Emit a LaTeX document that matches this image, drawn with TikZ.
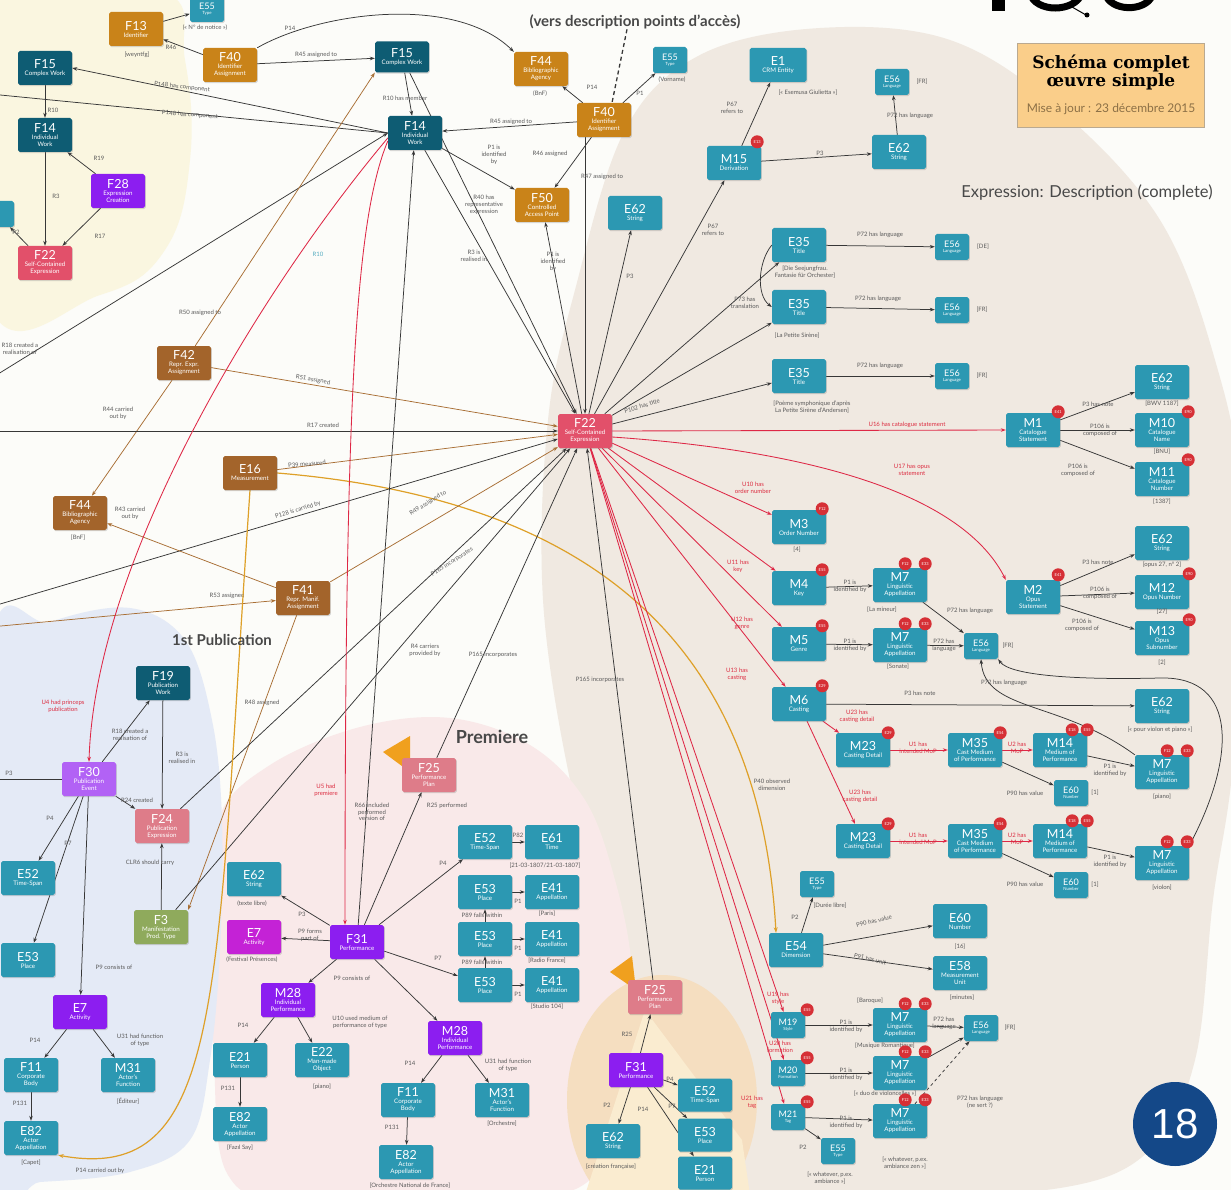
\documentclass[tikz,border=0pt]{standalone}
\usepackage{fontspec}
\setmainfont{Lato}
\setsansfont{Lato}
\newfontfamily\titlefont{DejaVu Serif}
\newfontfamily\numfont{Liberation Sans}
\usetikzlibrary{arrows.meta,shadows}
\pgfdeclarelayer{regions}
\pgfdeclarelayer{edges}
\pgfsetlayers{regions,edges,main}
\definecolor{colE}{RGB}{44,152,178}
\definecolor{colF}{RGB}{14,92,115}
\definecolor{colR}{RGB}{226,80,106}
\definecolor{colP}{RGB}{222,124,137}
\definecolor{colV}{RGB}{140,30,240}
\definecolor{colVl}{RGB}{178,98,245}
\definecolor{colMg}{RGB}{196,34,214}
\definecolor{colO}{RGB}{201,131,25}
\definecolor{colB}{RGB}{163,100,43}
\definecolor{colG}{RGB}{143,170,92}
\definecolor{colBadge}{RGB}{214,48,54}
\definecolor{bgwhite}{RGB}{252,252,249}
\definecolor{colCream}{RGB}{250,246,224}
\definecolor{colBeige}{RGB}{240,233,225}
\definecolor{colBlue}{RGB}{228,234,246}
\definecolor{colPink}{RGB}{249,233,233}
\definecolor{colPeach}{RGB}{245,222,192}
\definecolor{colPeachL}{RGB}{250,236,208}
\definecolor{edgecol}{RGB}{55,55,55}
\definecolor{redcol}{RGB}{222,40,70}
\definecolor{browncol}{RGB}{168,110,52}
\definecolor{orcol}{RGB}{222,160,40}
\definecolor{labcol}{RGB}{90,90,90}
\definecolor{redlabcol}{RGB}{220,45,65}
\definecolor{hdrcol}{RGB}{72,72,72}
\definecolor{titlefill}{RGB}{250,206,138}
\definecolor{datecol}{RGB}{140,112,70}
\definecolor{navy}{RGB}{20,72,136}
\definecolor{flagcol}{RGB}{240,160,30}
\newcommand\cc[1]{{\fontsize{12.5}{13}\selectfont #1}}
\newcommand\cs[1]{{\fontsize{9}{9.5}\selectfont #1}}
\begin{document}
\begin{tikzpicture}[x=1pt,y=-1pt,
  bx/.style={rectangle, rounded corners=1.8pt, minimum width=54pt, minimum height=34pt, inner sep=0.4pt, align=center, text=white, font=\fontsize{6.2}{7}\selectfont, drop shadow={shadow xshift=0.8pt, shadow yshift=-1.2pt, opacity=0.3}},
  sm/.style={minimum width=34pt, minimum height=26pt, font=\fontsize{4.3}{4.9}\selectfont},
  cE/.style={bx, fill=colE}, cF/.style={bx, fill=colF}, cR/.style={bx, fill=colR},
  cP/.style={bx, fill=colP}, cV/.style={bx, fill=colV}, cVl/.style={bx, fill=colVl},
  cMg/.style={bx, fill=colMg}, cO/.style={bx, fill=colO}, cB/.style={bx, fill=colB},
  cG/.style={bx, fill=colG},
  badge/.style={circle, fill=colBadge, text=white, font=\fontsize{4}{4}\selectfont, inner sep=0pt, minimum size=13pt},
  lab/.style={font=\fontsize{6}{6.7}\selectfont, text=labcol, align=center, inner sep=0.3pt},
  redlab/.style={lab, text=redlabcol},
  ann/.style={lab},
  ar/.style={draw=edgecol, line width=0.75pt, -{Stealth[length=5pt,width=3.6pt]}},
  redar/.style={draw=redcol, line width=0.85pt, -{Stealth[length=5pt,width=3.6pt]}},
  brar/.style={draw=browncol, line width=0.75pt, -{Stealth[length=5pt,width=3.6pt]}},
  orar/.style={draw=orcol, line width=1.2pt, -{Stealth[length=5.5pt,width=4pt]}},
  hdr/.style={text=hdrcol, inner sep=0pt}
]
\useasboundingbox (0,0) rectangle (1231,1190);

% ---------------- regions
\begin{pgfonlayer}{regions}
\fill[bgwhite] (0,0) rectangle (1231,1190);
\fill[colCream] plot[smooth cycle, tension=0.7] coordinates {(-10,-10) (160,-10) (185,60) (190,160) (165,250) (100,295) (-10,305)};
\fill[colBeige] plot[smooth cycle, tension=0.6] coordinates {(575,290) (548,420) (543,600) (570,780) (605,900) (650,1020) (720,1180) (880,1194) (1060,1188) (1150,1150) (1195,1060) (1213,900) (1234,750) (1240,500) (1215,360) (1160,220) (1060,110) (950,40) (820,28) (700,55) (625,130)};
\fill[colPink] plot[smooth cycle, tension=0.6] coordinates {(218,820) (270,765) (360,727) (450,718) (530,745) (585,800) (615,880) (632,970) (630,1080) (600,1170) (520,1200) (300,1200) (228,1175) (214,1060) (214,930)};
\fill[colBlue] plot[smooth cycle, tension=0.6] coordinates {(-10,655) (50,622) (130,608) (185,640) (212,720) (222,820) (220,950) (210,1060) (190,1140) (130,1172) (40,1182) (-10,1182)};
\fill[colPeach] (662,1100) ellipse [x radius=95, y radius=125];
\fill[colPeachL] (645,1010) -- (585,1195) -- (750,1195) -- (742,1140) -- cycle;
\end{pgfonlayer}

% ---------------- logo fragment (top right)
\fill[black] (992,-2) rectangle (1005,11);
\draw[line width=7pt] (1030,-7) .. controls (1035,13) and (1075,13) .. (1082,-7);
\draw[line width=1pt] (1072,7) -- (1086,15);
\fill[black] (1087,15) circle (2.5pt);
\draw[line width=7pt] (1105,-7) .. controls (1110,12) and (1145,12) .. (1152,-4);

% ---------------- headers
\node[hdr, font=\bfseries\fontsize{15}{16}\selectfont] (vers) at (635,22) {(vers description points d'accès)};
\node[hdr, font=\fontsize{16.5}{17}\selectfont] (exprh) at (1087,193) {Expression: Description (complete)};
\node[hdr, font=\bfseries\fontsize{15}{16}\selectfont] (pubh) at (222,640) {1st Publication};
\node[hdr, font=\bfseries\fontsize{18}{19}\selectfont] (premh) at (492,737) {Premiere};
\node[draw=datecol!60, fill=titlefill, minimum width=187pt, minimum height=84pt, align=center, inner sep=2pt] (ttl) at (1111,85)
 {{\titlefont\bfseries\fontsize{17}{20}\selectfont Schéma complet}\\{\titlefont\bfseries\fontsize{17}{20}\selectfont œuvre simple}\\[13pt]{\fontsize{12}{13}\selectfont\color{datecol}Mise à jour : 23 décembre 2015}};
\node[circle, fill=navy, minimum size=84pt, inner sep=0pt, text=white, font=\numfont\fontsize{42}{42}\selectfont] (pg) at (1175,1124) {18};

% ---------------- flags
\fill[flagcol] (383,752) -- (410,736) -- (410,772) -- cycle;
\fill[flagcol] (610,972) -- (632,956) -- (636,990) -- cycle;

% ---------------- nodes: top-left
\node[cO] (F13) at (136,29) {\cc{F13}\\Identifier};
\node[cE,sm] (E55a) at (207,9) {\cs{E55}\\Type};
\node[cO] (F40a) at (230,65) {\cc{F40}\\Identifier\\Assignment};
\node[cF] (F15a) at (45,68) {\cc{F15}\\Complex Work};
\node[cF] (F14a) at (45,135) {\cc{F14}\\Individual\\Work};
\node[cV] (F28) at (118,191) {\cc{F28}\\Expression\\Creation};
\node[cR] (F22a) at (45,263) {\cc{F22}\\Self-Contained\\Expression};
\node[cE,sm] (Ecut) at (-3,214) {};
\node[ann] (a1) at (137,55) {[weyntfg]};
\node[ann] (a2) at (205,28) {(« N° de notice »)};

% top-middle
\node[cF, minimum height=31pt] (F15b) at (402,57) {\cc{F15}\\Complex Work};
\node[cF] (F14b) at (415,133) {\cc{F14}\\Individual\\Work};
\node[cO] (F44a) at (541,69) {\cc{F44}\\Bibliographic\\Agency};
\node[ann] (a3) at (540,94) {(BnF)};
\node[cO] (F40b) at (604,120) {\cc{F40}\\Identifier\\Assignment};
\node[cE,sm] (E55b) at (670,60) {\cs{E55}\\Type};
\node[ann] (a4) at (672,80) {(Vorname)};
\node[cO] (F50) at (542,205) {\cc{F50}\\Controlled\\Access Point};
\node[cE] (E62a) at (635,213) {\cc{E62}\\String};
\node[cE, minimum width=57pt] (E1) at (778,65) {\cc{E1}\\CRM Entity};
\node[ann] (a5) at (808,93) {[« Esemusa Giulietta »]};
\node[cE] (M15) at (734,163) {\cc{M15}\\Derivation};
\node[cE] (E62b) at (899,152) {\cc{E62}\\String};
\node[cE,sm] (E56a) at (892,82) {\cs{E56}\\Language};
\node[ann] (a6) at (922,82) {[FR]};

% titles
\node[cE] (E35a) at (799,245) {\cc{E35}\\Title};
\node[ann] (a7) at (805,272) {[Die Seejungfrau.\\Fantasie für Orchester]};
\node[cE,sm] (E56b) at (952,247) {\cs{E56}\\Language};
\node[ann] (a8) at (983,247) {[DE]};
\node[cE] (E35b) at (799,307) {\cc{E35}\\Title};
\node[ann] (a9) at (797,336) {[La Petite Sirène]};
\node[cE,sm] (E56c) at (952,310) {\cs{E56}\\Language};
\node[ann] (a10) at (982,310) {[FR]};
\node[cE] (E35c) at (799,376) {\cc{E35}\\Title};
\node[ann] (a11) at (812,407) {[Poème symphonique d'après\\La Petite Sirène d'Andersen]};
\node[cE,sm] (E56d) at (952,376) {\cs{E56}\\Language};
\node[ann] (a12) at (982,376) {[FR]};

% center
\node[cR] (F22) at (585,431) {\cc{F22}\\Self-Contained\\Expression};

% right column
\node[cE] (M1) at (1033,430) {\cc{M1}\\Catalogue\\Statement};
\node[cE] (E62c) at (1162,382) {\cc{E62}\\String};
\node[ann] (a13) at (1162,404) {[BWV 1187]};
\node[cE] (M10) at (1162,430) {\cc{M10}\\Catalogue\\Name};
\node[ann] (a14) at (1162,452) {[BNU]};
\node[cE] (M11) at (1162,479) {\cc{M11}\\Catalogue\\Number};
\node[ann] (a15) at (1162,502) {[1387]};
\node[cE] (M2) at (1033,597) {\cc{M2}\\Opus\\Statement};
\node[cE] (E62d) at (1162,543) {\cc{E62}\\String};
\node[ann] (a16) at (1162,565) {[opus 27, n° 2]};
\node[cE] (M12) at (1162,592) {\cc{M12}\\Opus Number};
\node[ann] (a17) at (1162,612) {[27]};
\node[cE] (M13) at (1162,638) {\cc{M13}\\Opus\\Subnumber};
\node[ann] (a18) at (1162,663) {[2]};

\node[cE] (M3) at (799,527) {\cc{M3}\\Order Number};
\node[ann] (a19) at (797,550) {[4]};
\node[cE] (M4) at (799,588) {\cc{M4}\\Key};
\node[cE] (M7a) at (900,585) {\cc{M7}\\Linguistic\\Appellation};
\node[ann] (a20) at (882,610) {[La mineur]};
\node[cE] (M5) at (799,644) {\cc{M5}\\Genre};
\node[cE] (M7b) at (900,645) {\cc{M7}\\Linguistic\\Appellation};
\node[ann] (a21) at (898,667) {[Sonate]};
\node[cE,sm] (E56e) at (981,646) {\cs{E56}\\Language};
\node[ann] (a22) at (1008,646) {[FR]};
\node[cE] (M6) at (799,704) {\cc{M6}\\Casting};
\node[cE] (E62e) at (1162,706) {\cc{E62}\\String};
\node[ann] (a23) at (1160,730) {[« pour violon et piano »]};
\node[cE] (M23a) at (863,750) {\cc{M23}\\Casting Detail};
\node[cE] (M35a) at (975,750) {\cc{M35}\\Cast Medium\\of Performance};
\node[cE] (M14a) at (1060,750) {\cc{M14}\\Medium of\\Performance};
\node[cE,sm] (E60a) at (1071,793) {\cs{E60}\\Number};
\node[ann] (a24) at (1095,793) {[1]};
\node[cE] (M7c) at (1162,772) {\cc{M7}\\Linguistic\\Appellation};
\node[ann] (a25) at (1162,797) {[piano]};
\node[cE] (M23b) at (863,841) {\cc{M23}\\Casting Detail};
\node[cE] (M35b) at (975,841) {\cc{M35}\\Cast Medium\\of Performance};
\node[cE] (M14b) at (1060,841) {\cc{M14}\\Medium of\\Performance};
\node[cE,sm] (E60b) at (1071,885) {\cs{E60}\\Number};
\node[ann] (a26) at (1095,885) {[1]};
\node[cE] (M7d) at (1162,863) {\cc{M7}\\Linguistic\\Appellation};
\node[ann] (a27) at (1162,888) {[violon]};

\node[cE,sm] (E55c) at (817,884) {\cs{E55}\\Type};
\node[ann] (a28) at (830,906) {[Durée libre]};
\node[cE] (E54) at (796,950) {\cc{E54}\\Dimension};
\node[cE] (E60c) at (960,921) {\cc{E60}\\Number};
\node[ann] (a29) at (960,947) {[16]};
\node[cE] (E58) at (960,973) {\cc{E58}\\Measurement\\Unit};
\node[ann] (a30) at (962,998) {[minutes]};
\node[cE,sm] (M19) at (788,1025) {\cs{M19}\\Style};
\node[cE] (M7e) at (900,1025) {\cc{M7}\\Linguistic\\Appellation};
\node[ann] (a31) at (870,1001) {[Baroque]};
\node[ann] (a32) at (885,1046) {[Musique Romantique]};
\node[cE,sm] (E56f) at (981,1028) {\cs{E56}\\Language};
\node[ann] (a33) at (1010,1028) {[FR]};
\node[cE,sm] (M20) at (788,1073) {\cs{M20}\\Formation};
\node[cE] (M7f) at (900,1073) {\cc{M7}\\Linguistic\\Appellation};
\node[ann] (a34) at (885,1094) {[« duo de violoncelles »]};
\node[cE,sm] (M21) at (788,1117) {\cs{M21}\\Tag};
\node[cE] (M7g) at (900,1121) {\cc{M7}\\Linguistic\\Appellation};
\node[ann] (a35) at (905,1163) {[« whatever, p.ex.\\ambiance zen »]};
\node[cE,sm] (E55d) at (838,1151) {\cs{E55}\\Type};
\node[ann] (a36) at (830,1178) {[« whatever, p.ex.\\ambiance »]};

% left-middle
\node[cB] (F42) at (184,363) {\cc{F42}\\Repr. Expr.\\Assignment};
\node[cB] (F44b) at (80,513) {\cc{F44}\\Bibliographic\\Agency};
\node[ann] (a37) at (78,538) {[BnF]};
\node[cB] (E16) at (250,473) {\cc{E16}\\Measurement};
\node[cB] (F41) at (303,598) {\cc{F41}\\Repr. Manif.\\Assignment};

% publication
\node[cF] (F19) at (163,683) {\cc{F19}\\Publication\\Work};
\node[cVl] (F30) at (89,779) {\cc{F30}\\Publication\\Event};
\node[cP] (F24) at (162,826) {\cc{F24}\\Publication\\Expression};
\node[cE] (E52p) at (28,878) {\cc{E52}\\Time-Span};
\node[cE] (E62m) at (254,879) {\cc{E62}\\String};
\node[ann] (a38) at (252,904) {(texte libre)};
\node[cG] (F3) at (161,927) {\cc{F3}\\Manifestation\\Prod. Type};
\node[cE] (E53p) at (28,960) {\cc{E53}\\Place};
\node[cV] (E7p) at (80,1012) {\cc{E7}\\Activity};
\node[cE] (F11p) at (31,1075) {\cc{F11}\\Corporate\\Body};
\node[cE] (M31p) at (128,1075) {\cc{M31}\\Actor's\\Function};
\node[ann] (a39) at (128,1101) {[Éditeur]};
\node[cE] (E82p) at (31,1138) {\cc{E82}\\Actor\\Appellation};
\node[ann] (a40) at (31,1163) {[Capet]};

% premiere
\node[cP] (F25a) at (429,775) {\cc{F25}\\Performance\\Plan};
\node[cMg] (E7m) at (254,937) {\cc{E7}\\Activity};
\node[ann] (a41) at (252,960) {(Festival Présences)};
\node[cV] (F31a) at (357,942) {\cc{F31}\\Performance};
\node[cV] (M28a) at (288,1000) {\cc{M28}\\Individual\\Performance};
\node[cE] (E21a) at (240,1060) {\cc{E21}\\Person};
\node[cE] (E22) at (322,1060) {\cc{E22}\\Man-made\\Object};
\node[ann] (a42) at (322,1087) {[piano]};
\node[cE] (E82a) at (240,1124) {\cc{E82}\\Actor\\Appellation};
\node[ann] (a43) at (240,1148) {[Fazıl Say]};
\node[cE] (E52m) at (485,842) {\cc{E52}\\Time-Span};
\node[cE] (E61) at (552,842) {\cc{E61}\\Time};
\node[ann] (a44) at (545,866) {[21-03-1807/21-03-1807]};
\node[cE] (E53a) at (485,892) {\cc{E53}\\Place};
\node[cE] (E41a) at (552,892) {\cc{E41}\\Appellation};
\node[ann] (a45) at (547,914) {[Paris]};
\node[cE] (E53b) at (485,939) {\cc{E53}\\Place};
\node[cE] (E41b) at (552,939) {\cc{E41}\\Appellation};
\node[ann] (a46) at (547,961) {[Radio France]};
\node[cE] (E53c) at (485,985) {\cc{E53}\\Place};
\node[cE] (E41c) at (552,985) {\cc{E41}\\Appellation};
\node[ann] (a47) at (547,1007) {[Studio 104]};
\node[cV] (M28b) at (455,1038) {\cc{M28}\\Individual\\Performance};
\node[cE] (F11a) at (408,1100) {\cc{F11}\\Corporate\\Body};
\node[cE] (M31a) at (502,1100) {\cc{M31}\\Actor's\\Function};
\node[ann] (a48) at (502,1124) {[Orchestre]};
\node[cE] (E82b) at (406,1162) {\cc{E82}\\Actor\\Appellation};
\node[ann] (a49) at (410,1186) {[Orchestre National de France]};

% bottom performance
\node[cP] (F25b) at (655,997) {\cc{F25}\\Performance\\Plan};
\node[cV] (F31b) at (636,1070) {\cc{F31}\\Performance};
\node[cE] (E62f) at (613,1141) {\cc{E62}\\String};
\node[ann] (a50) at (611,1167) {[création française]};
\node[cE, minimum height=33pt] (E52b) at (705,1095) {\cc{E52}\\Time-Span};
\node[cE, minimum height=33pt] (E53d) at (705,1135) {\cc{E53}\\Place};
\node[cE, minimum height=33pt] (E21b) at (705,1173) {\cc{E21}\\Person};

\node[lab, text=colE!80!white] (r10) at (318,254) {R10};

% ---------------- badges
\node[badge] (bM15) at ([xshift=-4pt,yshift=4pt]M15.north east) {E13};
\node[badge] (bM1) at ([xshift=-2pt,yshift=1pt]M1.north east) {E41};
\node[badge] (bM10) at ([xshift=-1pt,yshift=1pt]M10.north east) {E90};
\node[badge] (bM11) at ([xshift=-1pt,yshift=2pt]M11.north east) {E90};
\node[badge] (bM2) at ([xshift=-2pt,yshift=5pt]M2.north east) {E41};
\node[badge] (bM12) at ([xshift=0pt,yshift=1pt]M12.north east) {E90};
\node[badge] (bM13) at ([xshift=0pt,yshift=1pt]M13.north east) {E90};
\node[badge] (bM3) at ([xshift=-4pt,yshift=1pt]M3.north east) {F12};
\node[badge] (bM4) at ([xshift=-4pt,yshift=1pt]M4.north east) {E55};
\node[badge] (bM5) at ([xshift=-4pt,yshift=1pt]M5.north east) {E55};
\node[badge] (bM6) at ([xshift=-4pt,yshift=1pt]M6.north east) {E29};
\foreach \m in {M7a,M7b,M7c,M7d,M7e,M7f,M7g}{
  \node[badge] (b1\m) at ([xshift=-22pt,yshift=4pt]\m.north east) {F12};
  \node[badge] (b2\m) at ([xshift=-2pt,yshift=4pt]\m.north east) {E33};
}
\node[badge] (bM23a) at ([xshift=-2pt,yshift=0pt]M23a.north east) {E29};
\node[badge] (bM23b) at ([xshift=-2pt,yshift=0pt]M23b.north east) {E29};
\node[badge] (bM35a) at ([xshift=-2pt,yshift=0pt]M35a.north east) {E54};
\node[badge] (bM35b) at ([xshift=-2pt,yshift=0pt]M35b.north east) {E54};
\node[badge] (b1M14a) at ([xshift=-15pt,yshift=3pt]M14a.north east) {E18};
\node[badge] (b2M14a) at ([xshift=0pt,yshift=3pt]M14a.north east) {E55};
\node[badge] (b1M14b) at ([xshift=-15pt,yshift=3pt]M14b.north east) {E18};
\node[badge] (b2M14b) at ([xshift=0pt,yshift=3pt]M14b.north east) {E55};
\node[badge] (bM19) at ([xshift=2pt,yshift=2pt]M19.north east) {E55};
\node[badge] (bM20) at ([xshift=2pt,yshift=2pt]M20.north east) {E55};
\node[badge] (bM21) at ([xshift=2pt,yshift=2pt]M21.north east) {E55};

% ---------------- coordinates off canvas
\coordinate (offL1) at (-10,94);
\coordinate (offL2) at (-10,431);
\coordinate (offL3) at (-10,607);
\coordinate (offL4) at (-10,627);
\coordinate (offL5) at (-10,779);
\coordinate (offL6) at (-10,379);

% ---------------- edges
\begin{pgfonlayer}{edges}
\draw[line width=1.3pt, dash pattern=on 4pt off 3pt, draw=edgecol] ([xshift=-8pt]vers.south) -- ([xshift=8pt]F40b.north);
% top-left
\draw[ar] (F40a) -- (F13) node[lab] at (171,47) {R46};
\draw[ar] (F13) -- (E55a);
\draw[ar] (F40a) -- (F15b) node[lab] at (316,55) {R45 assigned to};
\draw[ar] (F40a.north east) .. controls (320,12) and (455,-6) .. (F44a.north west) node[lab] at (290,28) {P14};
\draw[ar] (F15a) -- (F14a) node[lab] at (53,110) {R10};
\draw[ar] (F28) -- (F14a) node[lab] at (99,158) {R19};
\draw[ar] (F14a) -- (F22a) node[lab] at (56,196) {R3};
\draw[ar] (F28) -- (F22a) node[lab] at (100,236) {R17};
\draw[ar] (F22a) -- (Ecut) node[lab] at (16,232) {P2};
\draw[ar] (F14b.west) -- (F15a.east) node[lab, rotate=-6] at (182,87) {P148 has component};
\draw[ar] (F14b.west) -- (offL1) node[lab, rotate=-4] at (190,115) {P148 has component};
\draw[ar] (offL6) -- (F14b.west) node[lab, anchor=west] at (1,349) {R18 created a\\realisation of};
% top-middle
\draw[ar] (F15b) -- (F14b) node[lab] at (405,98) {R10 has member};
\draw[ar] (F40b) -- (F44a) node[lab] at (592,87) {P14};
\draw[ar] (F40b) -- (E55b) node[lab] at (640,93) {P1};
\draw[ar] (F40b) -- (F14b) node[lab] at (511,122) {R45 assigned to};
\draw[ar] (F40b) -- (F50) node[lab] at (550,154) {R46 assigned};
\draw[ar] (F14b) -- (F50) node[lab] at (494,155) {P1 is\\identified\\by};
\draw[ar] (F40b.south -| F22.north) -- (F22.north) node[lab] at (602,177) {R47 assigned to};
\draw[ar] (F22) -- (F50) node[lab] at (553,262) {P1 is\\identified\\by};
\draw[ar] (F22) -- (E62a) node[lab] at (630,276) {P3};
\draw[ar] (F22) -- (M15) node[lab] at (713,230) {P67\\refers to};
\draw[ar] (M15) -- (E1) node[lab] at (732,108) {P67\\refers to};
\draw[ar] (M15) -- (E62b) node[lab] at (820,153) {P3};
\draw[ar] (E62b) -- (E56a) node[lab] at (910,116) {P72 has language};
\draw[ar] (F15b) -- (F22) node[lab] at (484,205) {R40 has\\representative\\expression};
\draw[ar] (F14b) -- (F22) node[lab] at (474,256) {R3 is\\realised in};
% titles
\draw[ar] (F22) -- (E35a);
\draw[ar] (F22) -- (E35b);
\draw[ar] (F22) -- (E35c) node[lab, rotate=16] at (642,406) {P102 has title};
\draw[ar] (E35a) -- (E56b) node[lab] at (880,235) {P72 has language};
\draw[ar] (E35b) -- (E56c) node[lab] at (878,299) {P72 has language};
\draw[ar] (E35c) -- (E56d) node[lab] at (880,366) {P72 has language};
\draw[ar] (E35a.west) .. controls (758,262) and (756,295) .. (E35b.west) node[lab] at (745,303) {P73 has\\translation};
% right
\draw[redar] (F22.east) -- (M1.west) node[redlab] at (907,425) {U16 has catalogue statement};
\draw[ar] (M1) -- (E62c) node[lab] at (1098,404) {P3 has note};
\draw[ar] (M1) -- (M10) node[lab] at (1100,430) {P106 is\\composed of};
\draw[ar] (M1) -- (M11) node[lab] at (1078,470) {P106 is\\composed of};
\draw[redar] ([yshift=-6pt]F22.east) .. controls (800,450) and (960,490) .. (M2.north west) node[redlab] at (912,470) {U17 has opus\\statement};
\draw[ar] (M2) -- (E62d) node[lab] at (1098,562) {P3 has note};
\draw[ar] (M2) -- (M12) node[lab] at (1100,593) {P106 is\\composed of};
\draw[ar] (M2) -- (M13) node[lab] at (1082,625) {P106 is\\composed of};
\draw[redar] (F22) -- (M3) node[redlab] at (753,488) {U10 has\\order number};
\draw[redar] (F22) -- (M4) node[redlab] at (738,566) {U11 has\\key};
\draw[redar] (F22) -- (M5) node[redlab] at (742,623) {U12 has\\genre};
\draw[redar] (F22) -- (M6) node[redlab] at (737,674) {U13 has\\casting};
\draw[ar] (M4) -- (M7a) node[lab] at (850,586) {P1 is\\identified by};
\draw[ar] (M5) -- (M7b) node[lab] at (850,645) {P1 is\\identified by};
\draw[ar] (M7a) -- (E56e) node[lab] at (970,611) {P72 has language};
\draw[ar] (M7b) -- (E56e) node[lab] at (944,645) {P72 has\\language};
\draw[ar] (M6) -- (E62e) node[lab] at (920,693) {P3 has note};
\draw[redar] (M6) -- (M23a) node[redlab] at (857,716) {U23 has\\casting detail};
\draw[redar] (M6) -- (M23b) node[redlab] at (860,796) {U23 has\\casting detail};
\draw[redar] (M23a) -- (M35a) node[redlab] at (918,748) {U1 has\\intended MoP};
\draw[redar] (M35a) -- (M14a) node[redlab] at (1017,748) {U2 has\\MoP};
\draw[ar] (M35a) -- (E60a) node[lab] at (1025,793) {P90 has value};
\draw[ar] (M14a) -- (M7c) node[lab] at (1110,770) {P1 is\\identified by};
\draw[redar] (M23b) -- (M35b) node[redlab] at (918,839) {U1 has\\intended MoP};
\draw[redar] (M35b) -- (M14b) node[redlab] at (1017,839) {U2 has\\MoP};
\draw[ar] (M35b) -- (E60b) node[lab] at (1025,884) {P90 has value};
\draw[ar] (M14b) -- (M7d) node[lab] at (1110,861) {P1 is\\identified by};
\draw[ar] (M7c.north west) .. controls (1060,700) and (985,712) .. (E56e.south) node[lab] at (1004,683) {P72 has language};
\draw[ar] (M7d.north east) .. controls (1235,760) and (1240,676) .. (1160,678) .. controls (1080,680) and (1010,676) .. (E56e.south east);
% E54
\draw[orar] (E16.east) .. controls (600,500) and (760,650) .. ([xshift=-20pt]E54.north) node[lab] at (772,785) {P40 observed\\dimension};
\draw[ar] (E54) -- (E55c) node[lab] at (795,917) {P2};
\draw[ar] (E54) -- (E60c) node[lab, rotate=14] at (874,921) {P90 has value};
\draw[ar] (E54) -- (E58) node[lab, rotate=-14] at (870,959) {P91 has unit};
\draw[redar] (F22) -- (M19) node[redlab] at (778,998) {U19 has\\style};
\draw[redar] (F22) -- (M20) node[redlab] at (780,1047) {U20 has\\formation};
\draw[redar] (F22) -- (M21) node[redlab] at (752,1102) {U21 has\\tag};
\draw[ar] (M19) -- (M7e) node[lab] at (846,1026) {P1 is\\identified by};
\draw[ar] (M20) -- (M7f) node[lab] at (846,1074) {P1 is\\identified by};
\draw[ar] (M21) -- (M7g) node[lab] at (846,1122) {P1 is\\identified by};
\draw[ar] (M7e) -- (E56f) node[lab] at (944,1023) {P72 has\\language};
\draw[ar] (M7f) -- (E56f);
\draw[ar, dashed] (M7g) -- (E56f) node[lab] at (980,1102) {P72 has language\\(ne sert ?)};
\draw[ar] (M21) -- (E55d) node[lab] at (803,1147) {P2};
% left-middle
\draw[brar] (F42) -- (F15b.south west) node[lab] at (200,313) {R50 assigned to};
\draw[brar] (F42) -- (F22) node[lab, rotate=-10] at (313,380) {R51 assigned};
\draw[brar] (F42) -- (F44b) node[lab] at (118,413) {R44 carried\\out by};
\draw[ar] (offL2) -- (F22) node[lab] at (323,425) {R17 created};
\draw[brar] (E16) -- (F22) node[lab, rotate=5] at (307,464) {P39 measured};
\draw[ar] (offL3) -- ([yshift=-8pt]F22.west) node[lab, rotate=17] at (298,510) {P128 is carried by};
\draw[brar] (F41) -- (F44b) node[lab] at (130,513) {R43 carried\\out by};
\draw[brar] (F41) -- (F22) node[lab, rotate=32] at (428,503) {R49 assigned to};
\draw[brar] (offL4) -- (F41) node[lab] at (227,596) {R53 assigned};
\draw[brar] (F41) -- (F3.north east) node[lab] at (262,703) {R48 assigned};
\draw[ar] (F24) -- (F22) node[lab, rotate=33] at (452,562) {P165 incorporates};
\draw[ar] (F3) -- (F22) node[lab] at (425,650) {R4 carriers\\provided by};
\draw[ar] (F25a) -- (F22) node[lab] at (493,655) {P165 incorporates};
\draw[ar] (F25b) -- (F22) node[lab] at (600,680) {P165 incorporates};
\draw[ar] (F31a) -- (F14b) node[lab] at (372,812) {R66 included\\performed\\version of};
\draw[redar] ([yshift=-5pt]F14b.west) .. controls (260,290) and (95,560) .. (F30.north) node[redlab] at (63,706) {U4 had princeps\\publication};
\draw[redar] ([yshift=-8pt]F14b.west) .. controls (355,220) and (345,400) .. ([xshift=-12pt]F31a.north) node[redlab] at (326,790) {U5 had\\premiere};
% publication
\draw[ar] (F30) -- (F19) node[lab] at (130,735) {R18 created a\\realisation of};
\draw[ar] (F19) -- (F24) node[lab] at (182,758) {R3 is\\realised in};
\draw[ar] (F30) -- (F24) node[lab] at (137,800) {R24 created};
\draw[ar] (F3) -- (F24) node[lab] at (150,863) {CLR6 should carry};
\draw[ar] (F30) -- (offL5) node[lab] at (9,773) {P3};
\draw[ar] (F30) -- (E52p) node[lab] at (50,818) {P4};
\draw[ar] (F30) -- (E53p) node[lab] at (68,843) {P7};
\draw[ar] (F30) -- (E7p) node[lab] at (114,967) {P9 consists of};
\draw[ar] (E7p) -- (F11p) node[lab] at (35,1040) {P14};
\draw[ar] (E7p) -- (M31p) node[lab] at (140,1040) {U31 had function\\of type};
\draw[ar] (F11p) -- (E82p) node[lab] at (20,1103) {P131};
\draw[orar] (E16.south) .. controls (215,1000) and (225,1185) .. (E82p.south east) node[lab] at (100,1171) {P14 carried out by};
% premiere
\draw[ar] (F31a) -- (E62m) node[lab] at (302,914) {P3};
\draw[ar] (F31a) -- (E7m) node[lab] at (310,935) {P9 forms\\part of};
\draw[ar] (F31a) -- (M28a) node[lab] at (352,978) {P9 consists of};
\draw[ar] (F31a) -- (M28b);
\draw[ar] (F31a) -- (E52m) node[lab] at (443,863) {P4};
\draw[ar] (F31a) -- (E53c) node[lab] at (438,958) {P7};
\draw[ar] (F31a) -- (F25a) node[lab] at (447,806) {R25 performed};
\draw[ar] (E52m) -- (E61) node[lab] at (518,835) {P82};
\draw[ar] (E53a) -- (E41a) node[lab] at (518,901) {P1};
\draw[ar] (E53b) -- (E41b) node[lab] at (518,948) {P1};
\draw[ar] (E53c) -- (E41c) node[lab] at (518,994) {P1};
\draw[ar] (E53b) -- (E53a) node[lab] at (482,915) {P89 falls within};
\draw[ar] (E53c) -- (E53b) node[lab] at (482,962) {P89 falls within};
\draw[ar] (M28a) -- (E21a) node[lab] at (243,1025) {P14};
\draw[ar] (M28a) -- (E22) node[lab] at (360,1022) {U10 used medium of\\performance of type};
\draw[ar] (E21a) -- (E82a) node[lab] at (228,1088) {P131};
\draw[ar] (M28b) -- (F11a) node[lab] at (410,1063) {P14};
\draw[ar] (M28b) -- (M31a) node[lab] at (508,1065) {U31 had function\\of type};
\draw[ar] (F11a) -- (E82b) node[lab] at (392,1127) {P131};
% bottom performance
\draw[ar] (F31b) -- (F25b) node[lab] at (627,1034) {R25};
\draw[ar] (F31b) -- (E62f) node[lab] at (607,1105) {P2};
\draw[ar] (F31b) -- (E52b) node[lab] at (670,1079) {P4};
\draw[ar] (F31b) -- (E53d) node[lab] at (672,1106) {P7};
\draw[ar] (F31b) -- (E21b) node[lab] at (643,1109) {P14};
\end{pgfonlayer}
\end{tikzpicture}
\end{document}
